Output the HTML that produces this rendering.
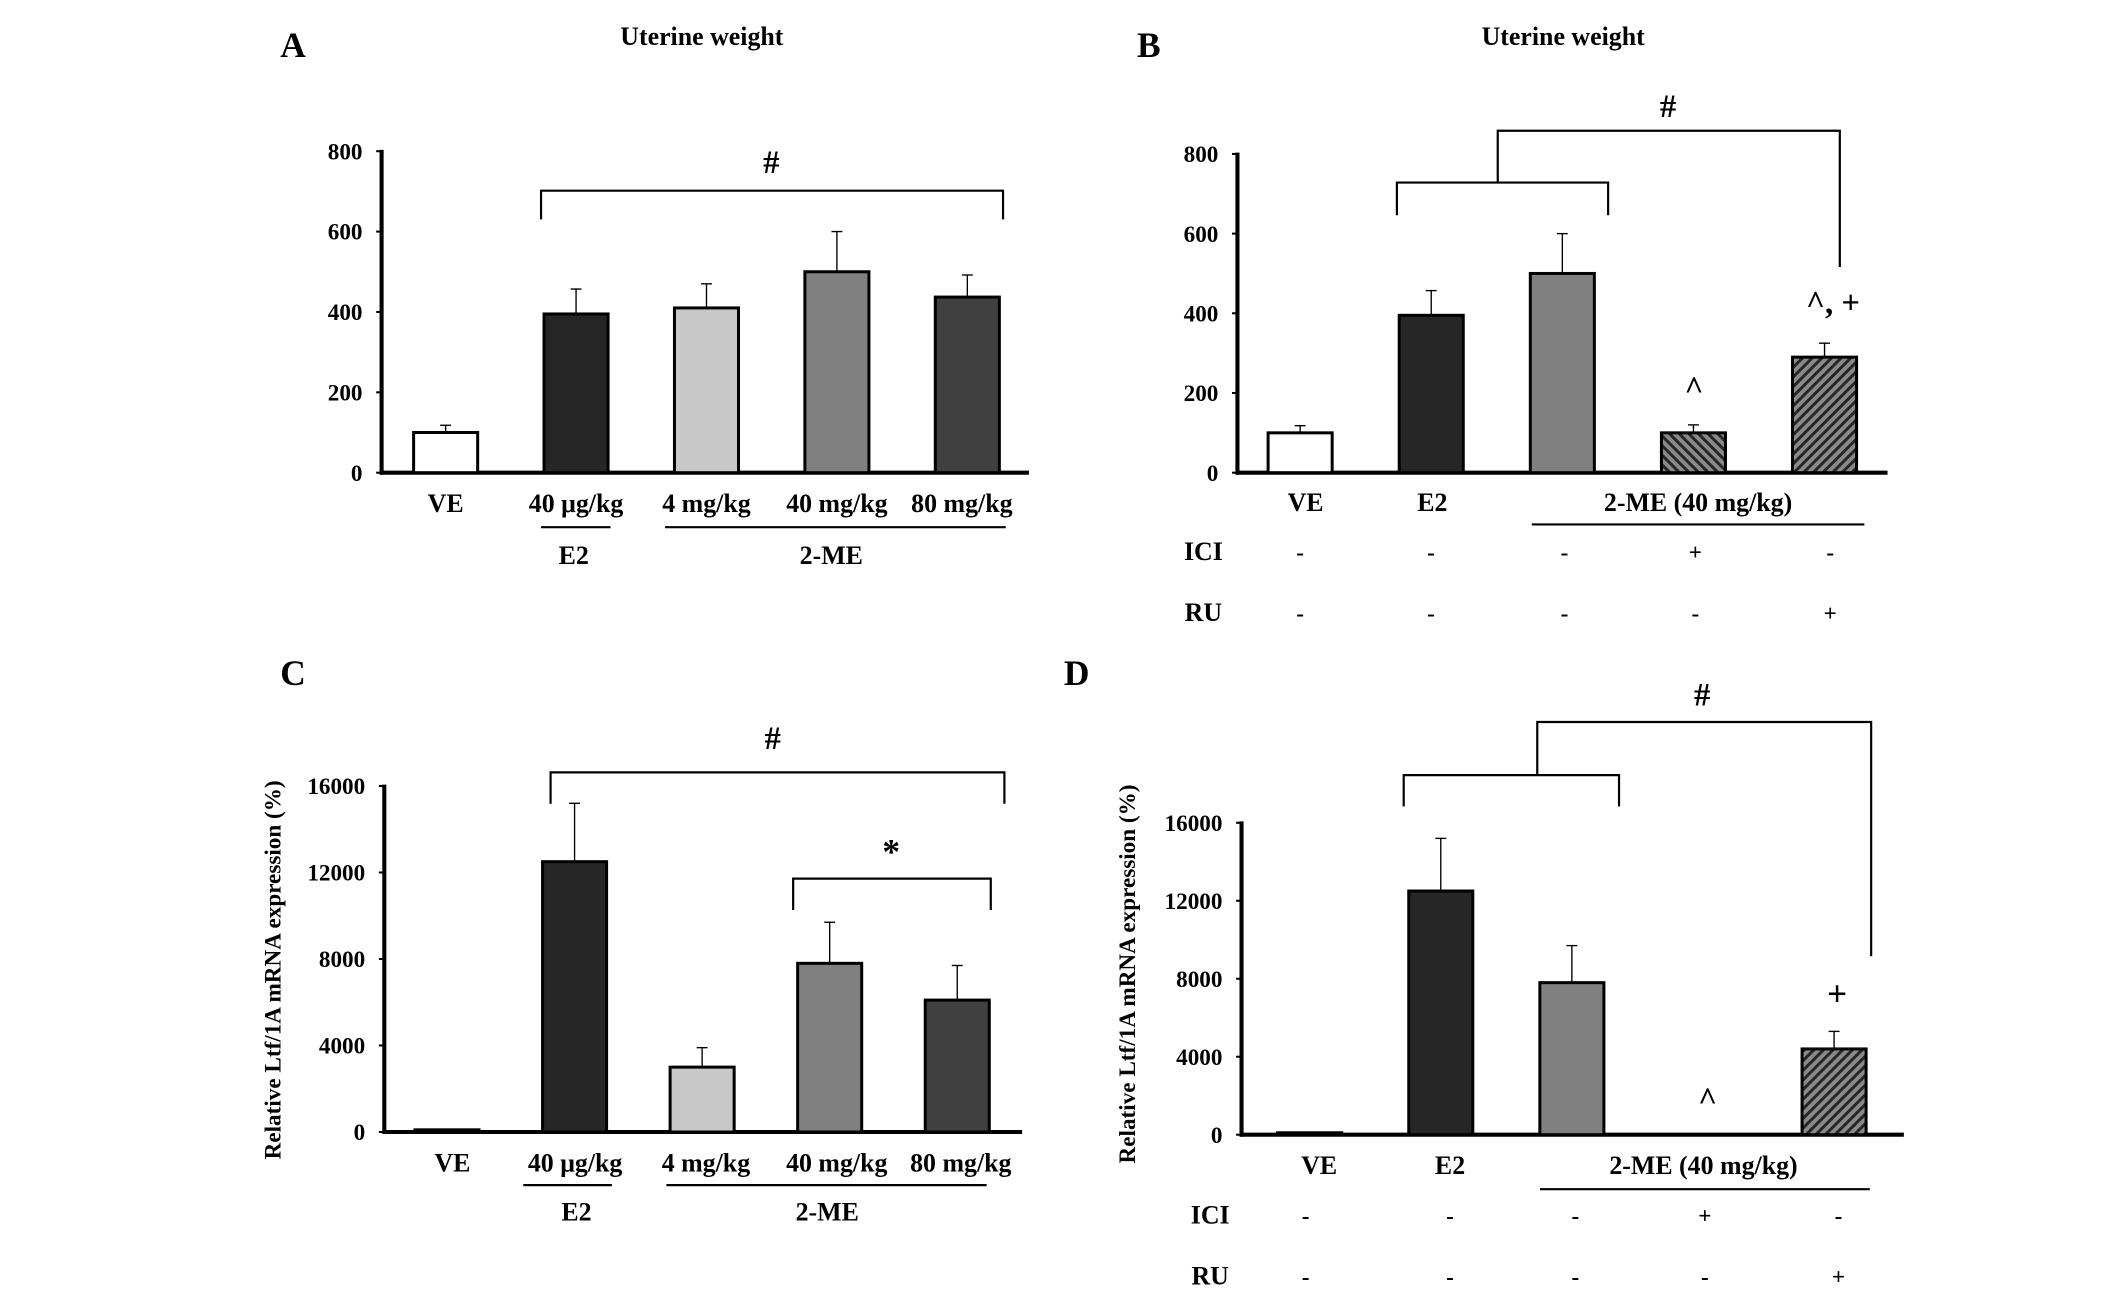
<!DOCTYPE html>
<html><head><meta charset="utf-8"><style>
html,body{margin:0;padding:0;background:#fff;}
svg{display:block;}
text{font-family:"Liberation Serif",serif;font-weight:bold;fill:#000;}
</style></head><body>
<svg id="fig" width="2126" height="1305" viewBox="0 0 1560 958" preserveAspectRatio="none" xmlns="http://www.w3.org/2000/svg">
<defs>
<pattern id="hatchR" patternUnits="userSpaceOnUse" width="5" height="5" patternTransform="rotate(45)"><rect width="5" height="5" fill="#8a8a8a"/><rect width="2.2" height="5" fill="#262626"/></pattern>
<pattern id="hatchL" patternUnits="userSpaceOnUse" width="5" height="5" patternTransform="rotate(-45)"><rect width="5" height="5" fill="#8a8a8a"/><rect width="2.2" height="5" fill="#262626"/></pattern>
</defs>
<g id="root"></g>
</svg>
<script>
// Panel A data
const catsA = ["VE","40 μg/kg","4 mg/kg","40 mg/kg","80 mg/kg"];
const valsA = [100,395,410,500,437];
const errA = [118,457,470,600,492];
const ticksA = [0,200,400,600,800];
// Panel B data
const catsB = ["VE","E2","2-ME","2-ME+ICI","2-ME+RU"];
const valsB = [100,395,500,100,290];
const errB = [118,457,600,120,325];
const ticksB = [0,200,400,600,800];
// Panel C data
const catsC = ["VE","40 μg/kg","4 mg/kg","40 mg/kg","80 mg/kg"];
const valsC = [100,12500,3000,7800,6100];
const errC = [100,15200,3900,9700,7700];
const ticksC = [0,4000,8000,12000,16000];
// Panel D data
const catsD = ["VE","E2","2-ME","2-ME+ICI","2-ME+RU"];
const valsD = [100,12500,7800,0,4400];
const errD = [100,15200,9700,0,5300];
const ticksD = [0,4000,8000,12000,16000];

const NS = "http://www.w3.org/2000/svg";
const root = document.getElementById("root");
function mk(tag, attrs, parent, txt){
  const e = document.createElementNS(NS, tag);
  for (const k in attrs) e.setAttribute(k, attrs[k]);
  if (txt !== undefined) e.textContent = txt;
  (parent || root).appendChild(e);
  return e;
}
function txt(x,y,s,size,anchor,parent){
  return mk("text",{x:x,y:y,"font-size":size,"text-anchor":anchor||"middle"},parent,s);
}

function panel(cfg){
  const g = mk("g",{});
  
  
  const y = v => cfg.y0 - (v/cfg.max)*(cfg.y0-cfg.yTop);
  const x = i => cfg.xStart + i*cfg.step;
  const ax = mk("g",{},g);
  
  
  mk("line",{x1:cfg.ax,y1:cfg.yTop-1,x2:cfg.ax,y2:cfg.y0+1.5,stroke:"#000","stroke-width":3},ax);
  cfg.ticks.forEach(t=>{
    mk("line",{x1:cfg.ax-4,y1:y(t),x2:cfg.ax,y2:y(t),stroke:"#000","stroke-width":1.5},ax);
    const tl = txt(cfg.ax-14,y(t)+6,String(t),17,"end",ax);
    
    
  });
  const xa = mk("line",{x1:cfg.ax-1,y1:cfg.y0,x2:cfg.axEnd,y2:cfg.y0,stroke:"#000","stroke-width":3},g);
  
  
  cfg.vals.forEach((v,i)=>{
    if (v <= 0) return;
    const cx = x(i);
    const e = cfg.errs[i];
    if (e > v) {
      const eb = mk("g",{},g);
      
      
      mk("line",{x1:cx,y1:y(v),x2:cx,y2:y(e),stroke:"#000","stroke-width":1},eb);
      mk("line",{x1:cx-4,y1:y(e),x2:cx+4,y2:y(e),stroke:"#000","stroke-width":1},eb);
    }
    const r = mk("rect",{x:cx-cfg.bw/2,y:y(v),width:cfg.bw,height:cfg.y0-y(v),fill:cfg.fills[i],stroke:"#000","stroke-width":2.2},g);
    
    
  });
  return {g,x,y};
}
function path(d,name,parent){
  const p = mk("path",{d:d,fill:"none",stroke:"#000","stroke-width":1.6},parent);
  
  
  return p;
}
function label(x,y,s,size,name,anchor){
  const t = txt(x,y,s,size,anchor);
  
  
  return t;
}
const ids5 = ["ve","e2","2me-4","2me-40","2me-80"];
const idsB = ["ve","e2","2me","2me-ici","2me-ru"];

// ---------- Panel A ----------
const pA = panel({name:"panel-a",ax:280,axEnd:755,y0:347,yTop:111,max:800,ticks:ticksA,vals:valsA,errs:errA,
  xStart:327,step:95.7,bw:47,fills:["#fff","#262626","#c8c8c8","#808080","#404040"],ids:ids5});
label(215,42,"A",26,"panel-label-a");
label(515,33,"Uterine weight",19,"chart-title-a");
catsA.forEach((c,i)=>label(pA.x(i)+(i==4?-4:0),376,c,19,"x-label-"+ids5[i]));
path("M397 161V140H736V161","significance-bracket-a");
label(566,127,"#",24,"significance-marker-a");
path("M397 387H448","e2-group-line-a");
path("M488 387H738","2me-group-line-a");
label(421,414,"E2",19,"group-label-e2-a");
label(610,414,"2-ME",19,"group-label-2me-a");

// ---------- Panel B ----------
const pB = panel({name:"panel-b",ax:908,axEnd:1385,y0:347,yTop:113,max:800,ticks:ticksB,vals:valsB,errs:errB,
  xStart:954,step:96.2,bw:47,fills:["#fff","#262626","#808080","url(#hatchL)","url(#hatchR)"],ids:idsB});
label(843,42,"B",26,"panel-label-b");
label(1147,33,"Uterine weight",19,"chart-title-b");
label(958,375,"VE",19,"x-label-ve-b");
label(1051,375,"E2",19,"x-label-e2-b");
label(1246,375,"2-ME (40 mg/kg)",19,"x-label-2me-b");
path("M1124 385H1368","2me-group-line-b");
path("M1025 158V134H1180V158M1099 134V96H1350V196","significance-bracket-b");
label(1224,86,"#",24,"significance-marker-b");
label(1243,293,"^",24,"ici-marker-b");
label(1345,230,"^, +",24,"ru-marker-b");
const colsB = [954,1050,1148,1244,1343];
const iciB = ["-","-","-","+","-"], ruB = ["-","-","-","-","+"];
label(883,411,"ICI",19,"ici-row-label-b");
label(883,456,"RU",19,"ru-row-label-b");
colsB.forEach((cx,i)=>{ label(cx,411,iciB[i],17,"ici-sign-b"); label(cx,456,ruB[i],17,"ru-sign-b"); });

// ---------- Panel C ----------
const pC = panel({name:"panel-c",ax:282,axEnd:750,y0:831,yTop:577,max:16000,ticks:ticksC,vals:valsC,errs:errC,
  xStart:328,step:93.6,bw:47,fills:["#fff","#262626","#c8c8c8","#808080","#404040"],ids:ids5});
label(215,503,"C",26,"panel-label-c");
const ylc = label(0,0,"Relative Ltf/1A mRNA expression (%)",17,"y-axis-title-c");
ylc.setAttribute("transform","translate(206,712) rotate(-90)");
const xsC=[332,422,518,614,705];
catsC.forEach((c,i)=>label(xsC[i],860,c,19,"x-label-"+ids5[i]));
path("M404 590V567H737V590","significance-bracket-c");
label(567,550,"#",24,"significance-marker-c");
path("M582 668V645H727V668","dose-bracket-c");
label(654,634,"*",26,"dose-marker-c");
path("M384 870H449","e2-group-line-c");
path("M489 870H724","2me-group-line-c");
label(423,896,"E2",19,"group-label-e2-c");
label(607,896,"2-ME",19,"group-label-2me-c");

// ---------- Panel D ----------
const pD = panel({name:"panel-d",ax:911,axEnd:1397,y0:833,yTop:604,max:16000,ticks:ticksD,vals:valsD,errs:errD,
  xStart:961,step:96.2,bw:47,fills:["#fff","#262626","#808080","url(#hatchL)","url(#hatchR)"],ids:idsB});
label(790,503,"D",26,"panel-label-d");
const yld = label(0,0,"Relative Ltf/1A mRNA expression (%)",17,"y-axis-title-d");
yld.setAttribute("transform","translate(833,715) rotate(-90)");
label(968,862,"VE",19,"x-label-ve-d");
label(1064,862,"E2",19,"x-label-e2-d");
label(1250,862,"2-ME (40 mg/kg)",19,"x-label-2me-d");
path("M1130 873H1372","2me-group-line-d");
path("M1030 592V569H1188V592M1128 569V530H1373V702","significance-bracket-d");
label(1249,518,"#",24,"significance-marker-d");
label(1253,815,"^",24,"ici-marker-d");
label(1348,738,"+",26,"ru-marker-d");
const colsD = [958,1064,1156,1251,1349];
label(888,898,"ICI",19,"ici-row-label-d");
label(888,943,"RU",19,"ru-row-label-d");
colsD.forEach((cx,i)=>{ label(cx,898,iciB[i],17,"ici-sign-d"); label(cx,943,ruB[i],17,"ru-sign-d"); });
</script>
</body></html>
